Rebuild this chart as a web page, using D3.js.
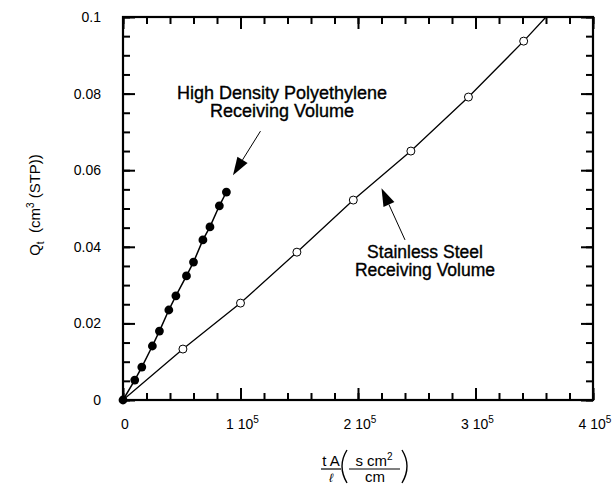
<!DOCTYPE html>
<html>
<head>
<meta charset="utf-8">
<script src="https://cdn.jsdelivr.net/npm/d3@7"></script>
<style>
  body { margin: 0; background: #fff; }
  svg { display: block; }
  text { font-family: "Liberation Sans", Arial, Helvetica, sans-serif; fill: #000; }
</style>
</head>
<body>
<svg></svg>
<script>
// High density polyethylene receiving volume (filled circles)
const hdpeX = [0, 1.0e4, 1.6e4, 2.5e4, 3.1e4, 3.9e4, 4.5e4, 5.4e4, 6.0e4, 6.8e4, 7.4e4, 8.2e4, 8.8e4];
const hdpeY = [0, 0.0052, 0.0086, 0.0141, 0.0180, 0.0235, 0.0272, 0.0324, 0.0360, 0.0418, 0.0452, 0.0507, 0.0543];

// stainless steel receiving volume (open circles)
const steelX = [0, 5.1e4, 1.0e5, 1.48e5, 1.96e5, 2.45e5, 2.94e5, 3.41e5];
const steelY = [0, 0.0133, 0.0253, 0.0386, 0.0522, 0.0650, 0.0791, 0.0937];
// the steel line runs on to the top of the frame
const steelLineEnd = [3.6e5, 0.1];

const xMajor = [0, 1e5, 2e5, 3e5, 4e5];
const xTickLabels = ["0", "1 10|5", "2 10|5", "3 10|5", "4 10|5"];
const yMajor = [0, 0.02, 0.04, 0.06, 0.08, 0.1];
const yTickLabels = ["0", "0.02", "0.04", "0.06", "0.08", "0.1"];
const xMinorStep = 2e4;
const yMinorStep = 0.005;

const W = 616;
const H = 486;
const margin = { top: 17, right: 23, bottom: 86, left: 123 };
const plotW = W - margin.left - margin.right;
const plotH = H - margin.top - margin.bottom;

const svg = d3.select("svg").attr("width", W).attr("height", H);

const xScale = d3.scaleLinear().domain([0, 4e5]).range([0, plotW]);
const yScale = d3.scaleLinear().domain([0, 0.1]).range([plotH, 0]);

const chart = svg.append("g").attr("transform", `translate(${margin.left},${margin.top})`);

// frame
chart.append("rect")
  .attr("width", plotW)
  .attr("height", plotH)
  .attr("fill", "none")
  .attr("stroke", "#000")
  .attr("stroke-width", 2.2);

// inward ticks on all four sides (every 2e4 / 0.005, long at 1e5 / 0.02)
const xMinor = d3.range(0, 20.5).map((i) => i * xMinorStep);
const yMinor = d3.range(0, 20.5).map((i) => i * yMinorStep);

function tickRow(axis, values, size, tx, ty) {
  const g = chart.append("g")
    .attr("transform", `translate(${tx},${ty})`)
    .call(axis.tickValues(values).tickSize(size).tickFormat(() => ""));
  g.select(".domain").remove();
  g.selectAll(".tick text").remove();
  g.selectAll(".tick line").attr("stroke", "#000").attr("stroke-width", 2);
}
tickRow(d3.axisBottom(xScale), xMinor, -7, 0, plotH);
tickRow(d3.axisBottom(xScale), xMajor, -12, 0, plotH);
tickRow(d3.axisTop(xScale), xMinor, -7, 0, 0);
tickRow(d3.axisTop(xScale), xMajor, -12, 0, 0);
tickRow(d3.axisLeft(yScale), yMinor, -7, 0, 0);
tickRow(d3.axisLeft(yScale), yMajor, -12, 0, 0);
tickRow(d3.axisRight(yScale), yMinor, -7, plotW, 0);
tickRow(d3.axisRight(yScale), yMajor, -12, plotW, 0);

// tick labels
chart.append("g").selectAll("text")
  .data(yMajor)
  .enter()
  .append("text")
  .attr("x", -22)
  .attr("y", (d) => yScale(d) + 5)
  .attr("text-anchor", "end")
  .style("font-size", "14px")
  .text((d, i) => yTickLabels[i]);

const xl = chart.append("g").selectAll("text")
  .data(xMajor)
  .enter()
  .append("text")
  .attr("x", (d) => xScale(d) + 2)
  .attr("y", plotH + 29)
  .attr("text-anchor", "middle")
  .style("font-size", "14px");
xl.each(function (d, i) {
  const parts = xTickLabels[i].split("|");
  const t = d3.select(this);
  t.append("tspan").text(parts[0]);
  if (parts[1]) t.append("tspan").attr("dy", -6).style("font-size", "10px").text(parts[1]);
});

// data lines
const lineGen = d3.line().x((d) => xScale(d[0])).y((d) => yScale(d[1]));
const hdpe = hdpeX.map((x, i) => [x, hdpeY[i]]);
const steel = steelX.map((x, i) => [x, steelY[i]]);

chart.append("path")
  .attr("d", lineGen(steel.concat([steelLineEnd])))
  .attr("fill", "none")
  .attr("stroke", "#000")
  .attr("stroke-width", 1.3);
chart.append("path")
  .attr("d", lineGen(hdpe))
  .attr("fill", "none")
  .attr("stroke", "#000")
  .attr("stroke-width", 1.5);

chart.append("g").selectAll("circle")
  .data(steel.slice(1))
  .enter()
  .append("circle")
  .attr("cx", (d) => xScale(d[0]))
  .attr("cy", (d) => yScale(d[1]))
  .attr("r", 4)
  .attr("fill", "#fff")
  .attr("stroke", "#000")
  .attr("stroke-width", 1);
chart.append("g").selectAll("circle")
  .data(hdpe)
  .enter()
  .append("circle")
  .attr("cx", (d) => xScale(d[0]))
  .attr("cy", (d) => yScale(d[1]))
  .attr("r", 4.4)
  .attr("fill", "#000");

// annotations
function arrow(from, to) {
  const x1 = xScale(from[0]), y1 = yScale(from[1]);
  const x2 = xScale(to[0]), y2 = yScale(to[1]);
  const ang = Math.atan2(y2 - y1, x2 - x1);
  const len = 18, hw = 6;
  const bx = x2 - len * Math.cos(ang), by = y2 - len * Math.sin(ang);
  chart.append("path")
    .attr("d", `M${x1},${y1}L${bx},${by}`)
    .attr("stroke", "#000").attr("stroke-width", 1);
  const px = -Math.sin(ang) * hw, py = Math.cos(ang) * hw;
  chart.append("path")
    .attr("d", `M${x2},${y2}L${bx + px},${by + py}L${bx - px},${by - py}Z`)
    .attr("fill", "#000");
}
arrow([1.17e5, 0.0702], [0.936e5, 0.0587]);
arrow([2.4e5, 0.0418], [2.2e5, 0.0553]);

function label(lines, x, y, size) {
  lines.forEach((line, i) => {
    chart.append("text")
      .attr("x", x)
      .attr("y", y + i * 18)
      .attr("text-anchor", "middle")
      .style("font-size", size + "px")
      .style("stroke", "#000")
      .style("stroke-width", "0.35px")
      .text(line);
  });
}
label(["High Density Polyethylene", "Receiving Volume"], 282 - margin.left, 99 - margin.top, 18);
label(["Stainless Steel", "Receiving Volume"], 425 - margin.left, 258 - margin.top, 17.5);

// y axis title
const yt = svg.append("text")
  .attr("transform", "translate(40,205) rotate(-90)")
  .attr("text-anchor", "middle")
  .style("font-size", "15px");
yt.append("tspan").text("Q");
yt.append("tspan").attr("dy", 4).style("font-size", "10px").text("t");
yt.append("tspan").attr("dy", -4).text("\u00a0\u00a0(cm");
yt.append("tspan").attr("dy", -6).style("font-size", "10px").text("3");
yt.append("tspan").attr("dy", 6).text(" (STP))");

// x axis title: (t A / l)(s cm^2 / cm)
const xt = svg.append("g").style("font-size", "15px");
xt.append("text").attr("x", 331).attr("y", 466).attr("text-anchor", "middle").text("t A");
xt.append("path").attr("d", "M321,469H341").attr("stroke", "#000").attr("stroke-width", 1.2);
xt.append("text").attr("x", 331).attr("y", 482).attr("text-anchor", "middle")
  .style("font-style", "italic").style("font-size", "12px").text("ℓ");
xt.append("path").attr("d", "M347,450 Q337,466 347,483").attr("fill", "none")
  .attr("stroke", "#000").attr("stroke-width", 1.4);
xt.append("path").attr("d", "M402,450 Q412,466 402,483").attr("fill", "none")
  .attr("stroke", "#000").attr("stroke-width", 1.4);
const num = xt.append("text").attr("x", 374).attr("y", 466).attr("text-anchor", "middle");
num.append("tspan").text("s cm");
num.append("tspan").attr("dy", -6).style("font-size", "10px").text("2");
xt.append("path").attr("d", "M349,469H400").attr("stroke", "#000").attr("stroke-width", 1.2);
xt.append("text").attr("x", 375).attr("y", 482).attr("text-anchor", "middle").text("cm");
</script>
</body>
</html>
